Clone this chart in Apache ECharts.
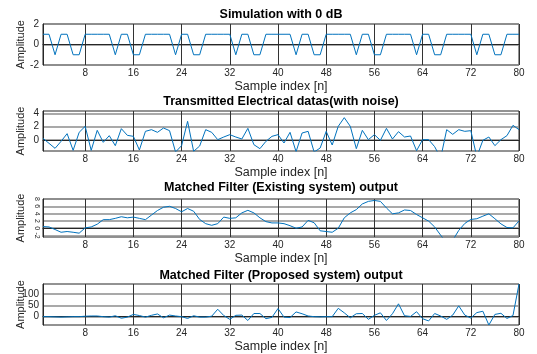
<!DOCTYPE html>
<html>
<head>
<meta charset="utf-8">
<script src="https://cdn.jsdelivr.net/npm/echarts@6/dist/echarts.min.js"></script>
<style>
  html, body { margin: 0; padding: 0; background: #fff; }
  #chart { width: 537px; height: 354px; }
</style>
</head>
<body>
<div id="chart"></div>
<script>
// sample index n
const samples = [1,2,3,4,5,6,7,8,9,10,11,12,13,14,15,16,17,18,19,20,
  21,22,23,24,25,26,27,28,29,30,31,32,33,34,35,36,37,38,39,40,
  41,42,43,44,45,46,47,48,49,50,51,52,53,54,55,56,57,58,59,60,
  61,62,63,64,65,66,67,68,69,70,71,72,73,74,75,76,77,78,79,80];
const xTicks = [8, 16, 24, 32, 40, 48, 56, 64, 72, 80];

const titles = [
  "Simulation with 0 dB",
  "Transmitted Electrical datas(with noise)",
  "Matched Filter (Existing system) output",
  "Matched Filter (Proposed system) output"
];

// 0 dB simulation (bipolar symbols)
const simulation = [
  1, 1, -1, 1, 1, -1, -1, 1, 1, 1,
  1, 1, -1, 1, 1, -1, -1, 1, 1, 1,
  1, 1, -1, 1, 1, -1, -1, 1, 1, 1,
  1, 1, -1, 1, 1, -1, -1, 1, 1, 1,
  1, 1, -1, 1, 1, -1, -1, 1, 1, 1,
  1, 1, -1, 1, 1, -1, -1, 1, 1, 1,
  1, 1, -1, 1, 1, -1, -1, 1, 1, 1,
  1, 1, -1, 1, 1, -1, -1, 1, 1, 1
];

// transmitted signal with noise
const transmitted = [
  0.25, -0.5, -1.25, -0.2, 0.95, -1.55, 1.15, 2.05, -1.55, 1.45,
  -0.35, 0.65, -0.85, 1.7, 0.7, 0.55, -1.5, 1.3, 1.55, 1.15,
  1.8, 1.4, -1.8, -0.85, 2.8, -1.7, -0.9, 1.55, 1.15, 0.05,
  0.45, 0.8, 0.45, 0.15, 1.75, -0.7, -1.3, -0.2, 0.55, 0.8,
  -0.45, 1.15, -1.75, 1.05, 1.3, -1.8, -1.2, 1.3, -0.75, 2.05,
  3.35, 2.05, -1.3, 1.45, 0.05, 0.8, -0.05, 1.75, 0.15, 1.25,
  0.45, 0.6, -1.6, 0.05, 0.05, -1.0, -2.7, 1.55, 0.85, 1.55,
  1.3, 1.4, -2.5, -0.05, 0.45, -0.85, 0.05, 0.65, 2.2, 1.55
];

// matched filter, existing system
const existingOut = [
  0.45, 0.35, -0.35, -1.1, -0.9, -1.1, -1.35, 0.1, 0.35, 1.1,
  2.35, 2.35, 2.7, 3.15, 2.85, 3.05, 2.7, 2.35, 3.6, 4.85,
  5.75, 6.0, 5.4, 4.5, 5.4, 4.65, 2.4, 1.25, 0.8, 1.25,
  3.05, 2.7, 2.85, 4.2, 4.9, 4.2, 2.85, 1.8, 1.45, 1.45,
  1.25, 0.7, 0.0, 0.35, 2.15, 1.5, -0.7, -0.9, -1.1, 0.0,
  2.85, 4.2, 5.1, 6.65, 7.35, 7.6, 7.35, 5.55, 3.95, 4.2,
  5.0, 4.85, 3.75, 2.85, 1.95, 0.35, -1.9, -4.0, -3.3, -0.6,
  1.3, 2.4, 2.6, 3.3, 3.95, 2.6, 1.2, 0.2, 0.1, 2.0
];

// matched filter, proposed system
const proposedOut = [
  0, 0, -1, -2, -1, 0, 0, 2, 3, 3,
  0, -2, 4, -7, -2, 10, 5, -2, 6, 12,
  -5, 7, 3, 0, -8, 4, -2, -2, 2, 33,
  5, -12, 6, 7, -17, 14, 14, -9, -3, 36,
  -2, -4, 21, 13, 3, 0, -1, 0, 0, 37,
  17, -5, 13, 14, -12, 6, 17, -17, 13, 57,
  4, 1, 22, -9, -19, 14, 3, -12, 7, 48,
  7, -6, 18, 24, -37, 10, 15, -8, 5, 145
];

const yTicks = [[-2, 0, 2], [0, 2, 4], [-2, 0, 2, 4, 6, 8], [0, 50, 100]];
const yRanges = [[-2, 2], [-1.65, 4.35], [-2.4, 8], [-37, 145]];
const seriesData = [simulation, transmitted, existingOut, proposedOut];

const FONT = "Liberation Sans";
const grids = [
  { left: 43, right: 18, top: 24, height: 41 },
  { left: 43, right: 18, top: 111, height: 40 },
  { left: 43, right: 18, top: 199, height: 38 },
  { left: 43, right: 18, top: 284, height: 41 }
];
const titleTops = [8, 95, 181.5, 269];

const chart = echarts.init(document.getElementById("chart"), null, { renderer: "canvas" });

const option = {
  animation: false,
  backgroundColor: "#fff",
  title: titles.map((t, i) => ({
    text: t,
    left: 281,
    top: titleTops[i],
    textAlign: "center",
    padding: 0,
    textStyle: { fontFamily: FONT, fontSize: 12.5, fontWeight: "bold", color: "#000" }
  })),
  grid: grids.map(g => Object.assign({
    show: true,
    containLabel: false,
    outerBoundsMode: "none",
    borderColor: "#262626",
    borderWidth: 1,
    backgroundColor: "#fff"
  }, g)),
  xAxis: grids.map((g, i) => ({
    type: "value",
    gridIndex: i,
    min: 1,
    max: 80,
    name: "Sample index [n]",
    nameLocation: "middle",
    nameGap: 15,
    nameMoveOverlap: false,
    nameTextStyle: { fontFamily: FONT, fontSize: 12.5, color: "#262626" },
    axisLine: { show: true, lineStyle: { color: "#262626" } },
    axisTick: { show: false, customValues: xTicks },
    axisLabel: { customValues: xTicks, margin: 3, fontFamily: FONT, fontSize: 10, color: "#262626" },
    splitLine: { show: true, lineStyle: { color: "#333", width: 1 } }
  })),
  yAxis: grids.map((g, i) => ({
    type: "value",
    gridIndex: i,
    min: yRanges[i][0],
    max: yRanges[i][1],
    name: "Amplitude",
    nameLocation: "middle",
    nameGap: 17,
    nameMoveOverlap: false,
    nameTextStyle: { fontFamily: FONT, fontSize: 11, color: "#262626" },
    axisLine: { show: true, lineStyle: { color: "#262626" } },
    axisTick: { show: false, customValues: yTicks[i] },
    axisLabel: i === 2
      ? { customValues: yTicks[i], rotate: -90, margin: 3, fontFamily: FONT, fontSize: 7, color: "#262626" }
      : { customValues: yTicks[i], margin: 4, fontFamily: FONT, fontSize: 10, color: "#262626" },
    splitLine: { show: true, lineStyle: { color: "#8c8c8c", width: 1.5 } }
  })),
  series: seriesData.map((vals, i) => ({
    type: "line",
    xAxisIndex: i,
    yAxisIndex: i,
    data: samples.map((n, k) => [n, vals[k]]),
    showSymbol: false,
    clip: true,
    lineStyle: { color: "#0072BD", width: 1 },
    itemStyle: { color: "#0072BD" }
  }))
};

chart.setOption(option);
</script>
</body>
</html>
